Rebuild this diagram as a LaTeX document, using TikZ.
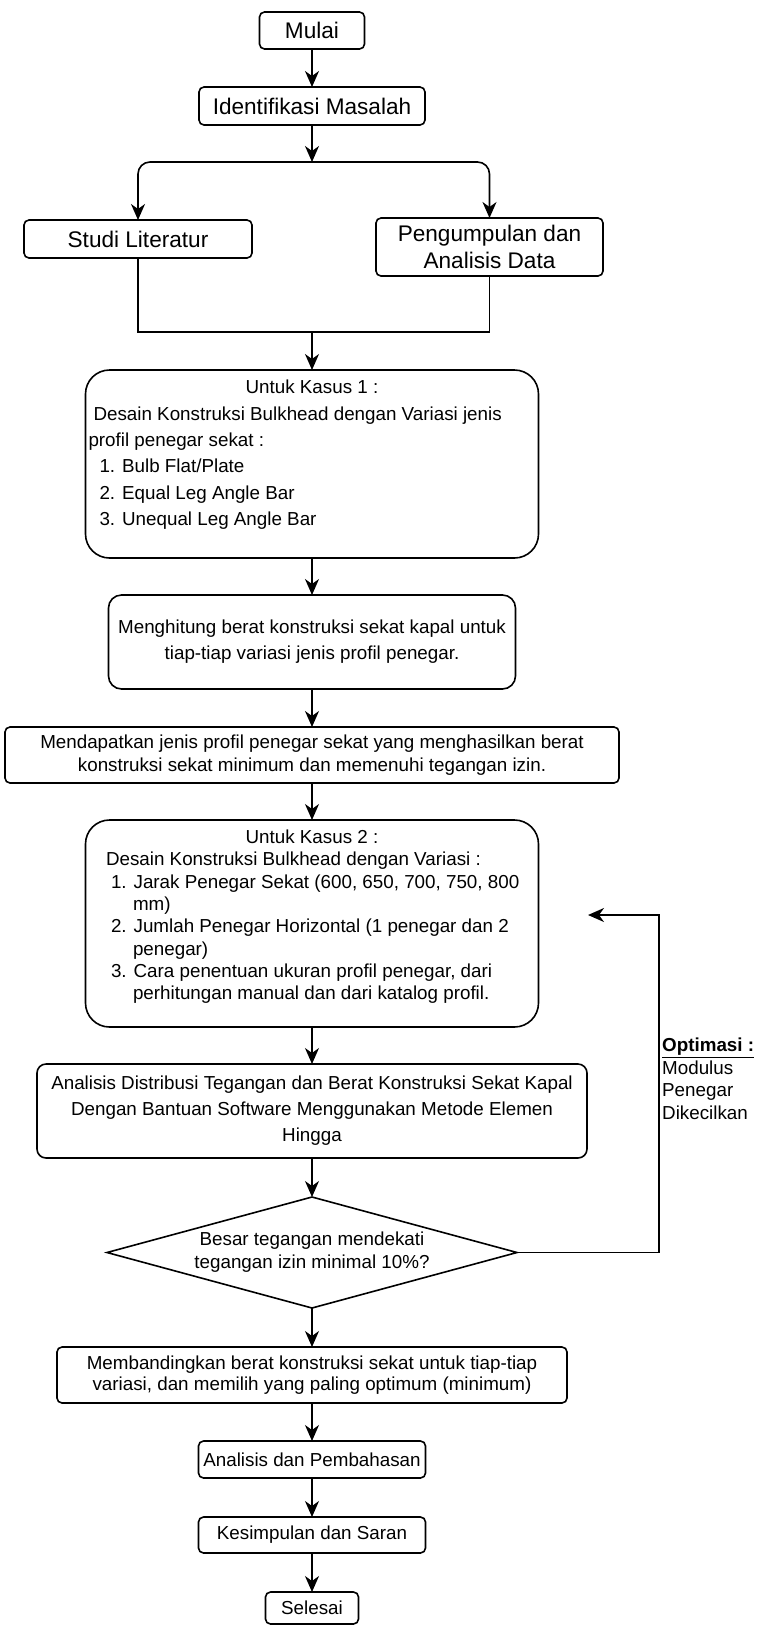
\documentclass[tikz,border=0pt]{standalone}
\usepackage{fontspec}
\setmainfont{Liberation Sans}
\usepackage{tikz}
\usetikzlibrary{shapes.geometric, arrows.meta, positioning}

\begin{document}
\begin{tikzpicture}[
    x=1pt, y=-1pt,
    box/.style={rectangle, rounded corners=5pt, draw=black, line width=1.6pt, align=center, inner sep=0pt, outer sep=0pt, font=\fontsize{18.8pt}{26pt}\selectfont},
    topbox/.style={box, font=\fontsize{22.6pt}{26.7pt}\selectfont},
    casebox/.style={box, rounded corners=24pt, minimum width=453pt},
    decision/.style={diamond, draw=black, line width=1.6pt, aspect=3.7, align=center, inner sep=0pt, outer sep=0pt, font=\fontsize{18.8pt}{23pt}\selectfont},
    arrow/.style={line width=1.6pt, -{Stealth[length=16pt, width=14pt, inset=5pt]}},
    line/.style={line width=1.6pt}
]
\useasboundingbox (0,0) rectangle (760,1626);

\node (mulai) [topbox, minimum width=105pt, minimum height=37pt] at (312,30.5) {Mulai};
\node (ident) [topbox, minimum width=226pt, minimum height=38pt, below=38pt of mulai] {Identifikasi Masalah};
\coordinate [below=37pt of ident] (split);
\node (studi) [topbox, minimum width=228pt, minimum height=38pt, below=95pt of ident, xshift=-174pt] {Studi Literatur};
\node (kumpul) [topbox, minimum width=227pt, minimum height=58pt, below=93pt of ident, xshift=177.5pt] {Pengumpulan dan\\Analisis Data};
\node (kasus1) [casebox, minimum height=188pt, below=245pt of ident, font=\fontsize{18.8pt}{26.4pt}\selectfont] {\parbox[c][168pt][t]{447pt}{\makebox[447pt]{Untuk Kasus 1 :}\\
    \hspace*{5pt}Desain Konstruksi Bulkhead dengan Variasi jenis\\
    profil penegar sekat :\\
    \hspace*{11pt}1. Bulb Flat/Plate\\
    \hspace*{11pt}2. Equal Leg Angle Bar\\
    \hspace*{11pt}3. Unequal Leg Angle Bar}};
\coordinate [above=38pt of kasus1] (join);
\node (hitung) [box, rounded corners=13pt, minimum width=407pt, minimum height=94pt, below=37pt of kasus1] {Menghitung berat konstruksi sekat kapal untuk\\tiap-tiap variasi jenis profil penegar.};
\node (dapat) [box, minimum width=614pt, minimum height=56pt, below=38pt of hitung, font=\fontsize{18.8pt}{23pt}\selectfont] {Mendapatkan jenis profil penegar sekat yang menghasilkan berat\\konstruksi sekat minimum dan memenuhi tegangan izin.};
\node (kasus2) [casebox, minimum height=207pt, below=37pt of dapat, font=\fontsize{18.8pt}{22.3pt}\selectfont] {\parbox[c][187pt][t]{440pt}{\makebox[440pt]{Untuk Kasus 2 :}\\
    \hspace*{14pt}Desain Konstruksi Bulkhead dengan Variasi :\\
    \hspace*{19pt}1. Jarak Penegar Sekat (600, 650, 700, 750, 800\\
    \hspace*{41pt}mm)\\
    \hspace*{19pt}2. Jumlah Penegar Horizontal (1 penegar dan 2\\
    \hspace*{41pt}penegar)\\
    \hspace*{19pt}3. Cara penentuan ukuran profil penegar, dari\\
    \hspace*{41pt}perhitungan manual dan dari katalog profil.}};
\node (analisis) [box, rounded corners=9pt, minimum width=550pt, minimum height=94pt, below=37pt of kasus2] {Analisis Distribusi Tegangan dan Berat Konstruksi Sekat Kapal\\Dengan Bantuan Software Menggunakan Metode Elemen\\Hingga};
\node (cek) [decision, minimum width=410pt, minimum height=111pt, below=39pt of analisis] {Besar tegangan mendekati\\tegangan izin minimal 10\%?};
\node (banding) [box, minimum width=510pt, minimum height=56pt, below=39pt of cek, font=\fontsize{18.8pt}{21.7pt}\selectfont] {Membandingkan berat konstruksi sekat untuk tiap-tiap\\variasi, dan memilih yang paling optimum (minimum)};
\node (bahas) [box, minimum width=227pt, minimum height=37pt, below=38pt of banding] {Analisis dan Pembahasan};
\node (simpul) [box, minimum width=227pt, minimum height=36pt, below=39pt of bahas] {Kesimpulan dan Saran};
\node (selesai) [box, minimum width=93pt, minimum height=32pt, below=39pt of simpul] {Selesai};
\coordinate (looptop) at (659,915);
\coordinate (loopend) at (588,915);
\node (optimasi) [anchor=west, align=left, inner sep=0pt, font=\fontsize{18.8pt}{22.5pt}\selectfont] at (662,1079) {\underline{\textbf{Optimasi :}}\\Modulus\\Penegar\\Dikecilkan};

\draw [arrow] (mulai) -- (ident);
\draw [arrow] (ident) -- (split);
\draw [arrow, rounded corners=12pt] (split) -| (studi);
\draw [arrow, rounded corners=12pt] (split) -| (kumpul);
\draw [line] (studi) |- (join) -| (kumpul);
\draw [arrow] (join) -- (kasus1);
\draw [arrow] (kasus1) -- (hitung);
\draw [arrow] (hitung) -- (dapat);
\draw [arrow] (dapat) -- (kasus2);
\draw [arrow] (kasus2) -- (analisis);
\draw [arrow] (analisis) -- (cek);
\draw [arrow] (cek.east) -| (looptop) -- (loopend);
\draw [arrow] (cek) -- (banding);
\draw [arrow] (banding) -- (bahas);
\draw [arrow] (bahas) -- (simpul);
\draw [arrow] (simpul) -- (selesai);

\end{tikzpicture}
\end{document}
